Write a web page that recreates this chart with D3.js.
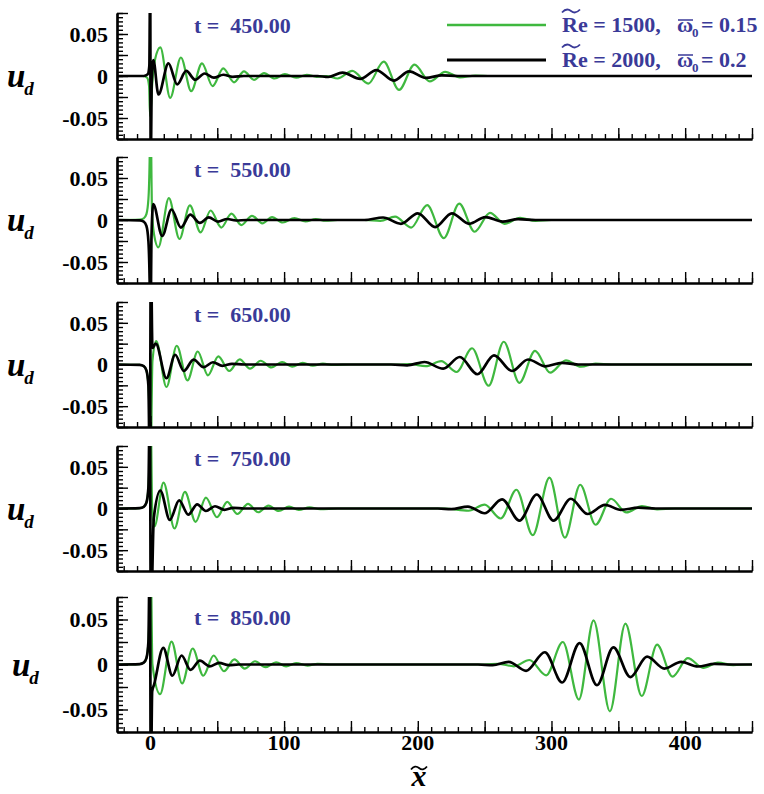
<!DOCTYPE html>
<html>
<head>
<meta charset="utf-8">
<script src="https://cdn.jsdelivr.net/npm/d3@7"></script>
<style>
  body { margin: 0; background: #fff; }
  svg text { font-family: "Liberation Serif", "Times New Roman", serif; font-weight: bold; }
</style>
</head>
<body>
<svg id="chart" width="764" height="794"></svg>
<script>

/*====================================
Data
======================================*/

var times = [450, 550, 650, 750, 850];

var green450 = [[-25,0],[-6,0],[-2.5,-0.002],[-1,-0.012],[-0.25,-0.048],[1.5,-0.006],[3.5,0.02],[7.4,0.034],[14.8,-0.026],[22.8,0.022],[30.5,-0.018],[38.6,0.015],[46.5,-0.012],[54.5,0.009],[62.5,-0.0075],[70,0.0055],[77.5,-0.0045],[85,0.0035],[93,-0.003],[100.6,0.0023],[109,-0.002],[117,0.0015],[124.5,-0.001],[132,0],[140,-0.003],[151,0.006],[163,-0.009],[174.5,0.017],[186,-0.0165],[197.5,0.0135],[209,-0.0065],[220.5,0.005],[231.5,-0.0016],[243,0.0005],[255,0],[450,0]];
var black450 = [[-25,0],[-5,0],[-2,0.002],[-0.8,0.012],[-0.2,0.12],[0.25,-0.12],[0.9,-0.01],[2.2,0.019],[6,-0.022],[13.5,0.015],[20,-0.01],[26.8,0.006],[33.5,-0.0045],[40.5,0.003],[47.5,-0.002],[54.5,0.0015],[61.5,-0.001],[70,0],[125,0],[133,-0.0012],[143.7,0.004],[157,-0.0035],[169,0.007],[182,-0.0055],[193.5,0.0055],[206,-0.0023],[218,0.0008],[230,0],[450,0]];

var green550 = [[-25,0],[-8,0.0005],[-5,0.002],[-3,0.007],[-1.5,0.025],[-0.6,0.07],[0,0.14],[1.2,0.01],[2.8,-0.018],[5.9,-0.0325],[13.8,0.026],[21.7,-0.0225],[29.5,0.0175],[37.5,-0.0148],[45,0.0113],[53,-0.009],[60.6,0.0075],[68,-0.006],[76,0.005],[83.7,-0.004],[91,0.0035],[99,-0.003],[107.7,0.0022],[116,-0.0018],[123.7,0.0012],[131,-0.0008],[140,0],[160,0],[172,-0.001],[183,0.004],[195,-0.009],[207,0.0176],[219.5,-0.0215],[231,0.0195],[242.5,-0.014],[254,0.0086],[265,-0.0045],[276.5,0.0025],[288,-0.001],[300,0],[450,0]];
var black550 = [[-25,0],[-8,-0.0005],[-5,-0.002],[-3,-0.007],[-1.5,-0.025],[-0.6,-0.07],[0,-0.14],[0.8,-0.02],[2.1,0.019],[8.8,-0.019],[15.8,0.0125],[22.8,-0.009],[29.8,0.0063],[37,-0.0035],[43.7,0.0032],[50.5,-0.002],[57.5,0.0012],[64,-0.0006],[72,0],[160,0],[174,0.003],[187.4,-0.0045],[200,0.008],[213,-0.0085],[225.5,0.008],[238.5,-0.0045],[250.5,0.0035],[263.5,-0.002],[275,0.001],[288,0],[450,0]];

var green650 = [[-25,0],[-8,-0.0005],[-5,-0.002],[-3,-0.007],[-1.5,-0.025],[-0.6,-0.07],[0,-0.14],[1.5,0.004],[4.3,0.028],[12,-0.027],[19.7,0.0225],[27.7,-0.019],[35.4,0.0156],[43,-0.013],[50.8,0.0098],[59,-0.0078],[66.8,0.0062],[74.5,-0.005],[82.5,0.0045],[90.5,-0.0035],[98.5,0.003],[106,-0.0025],[114,0.002],[121.5,-0.0015],[129,0.001],[137,-0.0005],[150,0],[185,0],[194,0.0006],[206,-0.002],[217.5,0.004],[229,-0.009],[240.6,0.0195],[253,-0.0254],[264.3,0.0273],[276,-0.022],[287.7,0.0164],[299,-0.0098],[310.8,0.005],[322,-0.0027],[333,0.001],[345,0],[450,0]];
var black650 = [[-25,0],[-8,-0.0005],[-5,-0.002],[-3,-0.007],[-1.5,-0.025],[-0.4,-0.14],[0.3,0.14],[1.5,0.02],[4,0.025],[12,-0.0164],[18.5,0.0117],[25,-0.0078],[32.3,0.0059],[39.7,-0.0032],[46.8,0.0027],[53.8,-0.0016],[61,0.0008],[70,0],[180,0],[192,-0.001],[205,0.003],[219,-0.005],[231.4,0.009],[244.6,-0.0117],[257,0.011],[270.5,-0.0078],[282.5,0.006],[295.5,-0.0022],[307.7,0.002],[320,0],[450,0]];

var green750 = [[-25,0],[-8,0.0005],[-5,0.002],[-3,0.007],[-1.5,0.025],[-0.6,0.07],[0,0.14],[1.3,0],[3,-0.0215],[9.8,0.031],[18,-0.024],[25.8,0.02],[33.8,-0.016],[41.5,0.013],[49.8,-0.0105],[57.5,0.008],[65,-0.0066],[73,0.0055],[80.6,-0.0045],[88.3,0.0035],[96,-0.003],[103.7,0.0022],[111,-0.0018],[119,0.0013],[127,-0.0008],[140,0],[220,0],[238,-0.0027],[250,0.0047],[262,-0.012],[273.8,0.0225],[286,-0.032],[298.5,0.037],[310,-0.035],[321.5,0.0285],[333,-0.0195],[344.6,0.0117],[356,-0.0047],[367.7,0.003],[379,-0.001],[392,0],[450,0]];
var black750 = [[-25,0],[-8,0.0005],[-5,0.002],[-3,0.007],[-1.5,0.025],[-0.4,0.14],[0.3,-0.14],[2.5,-0.012],[7.4,0.0215],[14.5,-0.0137],[21.5,0.0098],[28.3,-0.0074],[35,0.005],[41.5,-0.003],[48.3,0.0027],[55.4,-0.0016],[62,0.0008],[70,0],[215,0],[225,-0.0008],[237.5,0.0023],[250,-0.0057],[263,0.011],[276,-0.0145],[289,0.0168],[301.5,-0.0145],[314.5,0.0117],[327,-0.0066],[340,0.0043],[352,-0.0016],[365,0.001],[378,0],[450,0]];

var green850 = [[-25,0],[-8,0.0005],[-5,0.002],[-3,0.007],[-1.5,0.025],[-0.6,0.07],[0,0.14],[1.5,0],[7.2,-0.033],[15.8,0.0255],[23.7,-0.021],[31.6,0.0178],[39.5,-0.0125],[47.3,0.01],[55,-0.0075],[62.8,0.0056],[70.5,-0.0045],[78.3,0.0036],[86,-0.003],[94,0.0025],[101.5,-0.002],[109,0.0016],[117.5,-0.0012],[125,0.0008],[135,0],[250,0],[260,0.0008],[272,-0.002],[283.5,0.005],[296,-0.012],[308.5,0.025],[320.5,-0.039],[331.5,0.049],[343.7,-0.052],[355.3,0.0455],[367.5,-0.035],[379,0.022],[390.5,-0.0135],[402,0.007],[413.5,-0.0037],[424.5,0.002],[436,-0.0006],[448,0],[450,0]];
var black850 = [[-25,0],[-8,0.0005],[-5,0.002],[-3,0.007],[-1.5,0.025],[-0.4,0.14],[0.3,-0.14],[1.3,-0.03],[2.8,-0.022],[9.6,0.0185],[16.4,-0.0125],[23.3,0.01],[30,-0.006],[37,0.0042],[44.3,-0.002],[51.4,0.0018],[58.5,-0.0008],[66,0],[245,0],[256,-0.0008],[268,0.003],[281,-0.007],[295,0.0136],[308,-0.02],[321,0.0238],[334,-0.023],[346.3,0.019],[359,-0.014],[371.5,0.0087],[384.5,-0.0045],[397,0.003],[409.5,-0.0022],[422,0.0006],[435,0],[450,0]];

var greenSeries = [green450, green550, green650, green750, green850];
var blackSeries = [black450, black550, black650, black750, black850];

var xLabelTicks = [0, 100, 200, 300, 400];
var yLabelTicks = [-0.05, 0, 0.05];
var legendRe = ['1500', '2000'];
var legendOmega = ['0.15', '0.2'];

function main() {

(function () {
    'use strict';

    var svg = d3.select('#chart');
    var GREEN = '#3fb83f', BLUE = '#3a3a98';

    // panel frames (top, bottom) in pixels
    var panelTop = [13, 157, 302, 446, 597];
    var panelBottom = [139, 283, 427, 571, 732];
    var titleBase = [33, 177, 322, 466, 625];
    var uLeft = [7, 7, 7, 7, 12];

    var x = d3.scaleLinear().domain([-25, 450]).range([117, 752]);

    var xMinor = d3.range(-20, 451, 10);
    var xMajor = d3.range(0, 451, 50);
    var yMinor = d3.range(-15, 16).map(function (k) { return k * 0.005; });
    var yMajor = d3.range(-3, 4).map(function (k) { return k * 0.025; });

    /*====================================
    Panels
    ======================================*/

    times.forEach(function (t, i) {
        var top = panelTop[i], bottom = panelBottom[i];
        var y = d3.scaleLinear().domain([-0.075, 0.075]).range([bottom, top]);
        var g = svg.append('g');

        svg.append('clipPath').attr('id', 'clip' + i)
            .append('rect')
            .attr('x', x.range()[0]).attr('y', top)
            .attr('width', x.range()[1] - x.range()[0])
            .attr('height', bottom - top);

        var line = d3.line()
            .x(function (d) { return x(d[0]); })
            .y(function (d) { return y(d[1]); })
            .curve(d3.curveMonotoneX);

        g.append('path').datum(greenSeries[i])
            .attr('d', line).attr('fill', 'none')
            .attr('stroke', GREEN).attr('stroke-width', 2.2)
            .attr('clip-path', 'url(#clip' + i + ')');

        g.append('path').datum(blackSeries[i])
            .attr('d', line).attr('fill', 'none')
            .attr('stroke', '#000').attr('stroke-width', 2.7)
            .attr('stroke-linejoin', 'round')
            .attr('clip-path', 'url(#clip' + i + ')');

        // bottom axis, ticks pointing inward
        var bx = g.append('g').attr('transform', 'translate(0,' + bottom + ')');
        bx.append('g').call(d3.axisBottom(x).tickValues(xMinor).tickSize(-5).tickSizeOuter(0).tickFormat(''));
        bx.append('g').call(d3.axisBottom(x).tickValues(xMajor).tickSize(-11).tickSizeOuter(0).tickFormat(''));

        // left axis
        var ly = g.append('g').attr('transform', 'translate(' + x.range()[0] + ',0)');
        ly.append('g').call(d3.axisLeft(y).tickValues(yMinor).tickSize(-6).tickSizeOuter(0).tickFormat(''));
        ly.append('g').call(d3.axisLeft(y).tickValues(yMajor).tickSize(-11).tickSizeOuter(0).tickFormat(''));

        g.selectAll('.domain').attr('stroke', '#000').attr('stroke-width', 2.2);
        g.selectAll('.tick line').attr('stroke', '#000').attr('stroke-width', 1.4);

        // y tick labels
        g.selectAll('text.ylab').data(yLabelTicks).enter().append('text')
            .attr('class', 'ylab')
            .attr('x', 108).attr('y', function (d) { return y(d); })
            .attr('dy', '0.35em')
            .attr('text-anchor', 'end')
            .attr('font-size', 22)
            .text(function (d) { return String(d); });

        // u_d
        var ut = g.append('text').attr('x', uLeft[i]).attr('y', y(0) + 11)
            .attr('font-size', 33).attr('font-style', 'italic');
        ut.append('tspan').text('u');
        ut.append('tspan').attr('font-size', 19).attr('dy', 8).attr('dx', -1).text('d');

        // time stamp
        g.append('text').attr('x', 194).attr('y', titleBase[i])
            .attr('font-size', 22).attr('fill', BLUE)
            .attr('xml:space', 'preserve')
            .text('t =  ' + t.toFixed(2));

        if (i === times.length - 1) {
            g.selectAll('text.xlab').data(xLabelTicks).enter().append('text')
                .attr('class', 'xlab')
                .attr('x', function (d) { return x(d); }).attr('y', bottom + 18)
                .attr('text-anchor', 'middle')
                .attr('font-size', 22)
                .text(function (d) { return d; });
        }
    });

    /*====================================
    Axis title x~
    ======================================*/

    function tilde(x0, y0, w, color) {
        svg.append('path')
            .attr('d', 'M' + x0 + ',' + (y0 + 1.5) +
                ' Q' + (x0 + w * 0.25) + ',' + (y0 - 3.5) + ' ' + (x0 + w * 0.5) + ',' + y0 +
                ' T' + (x0 + w) + ',' + (y0 - 1.5))
            .attr('fill', 'none').attr('stroke', color).attr('stroke-width', 1.8);
    }

    svg.append('text').attr('x', 419).attr('y', 786)
        .attr('text-anchor', 'middle').attr('font-size', 30).attr('font-style', 'italic')
        .text('x');
    tilde(411, 768, 16, '#000');

    /*====================================
    Legend
    ======================================*/

    var legendColors = [GREEN, '#000'];
    var legendY = [25, 60];
    legendRe.forEach(function (re, k) {
        var ly = legendY[k];
        svg.append('line').attr('x1', 447).attr('x2', 546).attr('y1', ly).attr('y2', ly)
            .attr('stroke', legendColors[k]).attr('stroke-width', k ? 2.8 : 2.4);
        var base = ly + 7;
        svg.append('text').attr('x', 562).attr('y', base).attr('font-size', 22).attr('fill', BLUE)
            .text('Re = ' + re + ',');
        tilde(562, ly - 14, 18, BLUE);
        svg.append('text').attr('x', 677).attr('y', base).attr('font-size', 22).attr('fill', BLUE)
            .text('\u03c9');
        svg.append('line').attr('x1', 678).attr('x2', 693).attr('y1', ly - 5).attr('y2', ly - 5)
            .attr('stroke', BLUE).attr('stroke-width', 1.5);
        svg.append('text').attr('x', 692).attr('y', base + 5).attr('font-size', 13).attr('fill', BLUE)
            .text('0');
        svg.append('text').attr('x', 701).attr('y', base).attr('font-size', 22).attr('fill', BLUE)
            .text('= ' + legendOmega[k]);
    });

}());
}
main();
</script>
</body>
</html>
